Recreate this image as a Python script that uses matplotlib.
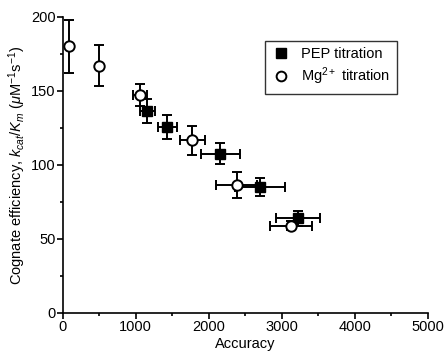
import matplotlib
matplotlib.use("Agg")
import matplotlib.pyplot as plt
from matplotlib.ticker import MultipleLocator
from matplotlib.lines import Line2D

plt.rcParams['font.family'] = ['Liberation Sans', 'DejaVu Sans']
plt.rcParams['mathtext.fontset'] = 'custom'
plt.rcParams['mathtext.rm'] = 'Liberation Sans'
plt.rcParams['mathtext.it'] = 'Liberation Sans:italic'

# PEP titration (filled squares)
pep_x = [1160, 1430, 2160, 2700, 3220]
pep_xerr = [105, 130, 265, 340, 305]
pep_y = [136.5, 125.5, 107.5, 85, 64]
pep_yerr = [8, 8, 7, 6, 5]

# Mg2+ titration (open circles)
mg_x = [80, 500, 1060, 1775, 2380, 3130]
mg_xerr = [0, 0, 95, 175, 280, 285]
mg_y = [180, 167, 147, 116.5, 86.5, 59]
mg_yerr = [18, 14, 7.5, 9.5, 9, 3]

fig = plt.figure(figsize=(4.48, 3.52), dpi=100)
ax = fig.add_axes([0.140, 0.111, 0.815, 0.841])

ax.errorbar(pep_x, pep_y, xerr=pep_xerr, yerr=pep_yerr, fmt='s', color='black',
            markersize=7, elinewidth=1.4, capsize=3.5, capthick=1.4, zorder=3)
ax.errorbar(mg_x, mg_y, xerr=mg_xerr, yerr=mg_yerr, fmt='o', color='black',
            markerfacecolor='white', markeredgecolor='black', markeredgewidth=1.4,
            markersize=7.5, elinewidth=1.4, capsize=3.5, capthick=1.4, zorder=4)

ax.set_xlim(0, 5000)
ax.set_ylim(0, 200)
ax.xaxis.set_major_locator(MultipleLocator(1000))
ax.xaxis.set_minor_locator(MultipleLocator(500))
ax.yaxis.set_major_locator(MultipleLocator(50))
ax.yaxis.set_minor_locator(MultipleLocator(25))
for s in ['top', 'right']:
    ax.spines[s].set_visible(False)
for s in ['left', 'bottom']:
    ax.spines[s].set_linewidth(1.2)
ax.tick_params(which='major', direction='out', length=4, width=1.2, labelsize=10.5, pad=1)
ax.tick_params(which='minor', direction='out', length=2.5, width=1.2)

ax.set_xlabel('Accuracy', fontsize=10.5, labelpad=2)
ax.set_ylabel(r'Cognate efficiency, $k_{cat}/K_m$ ($\mu$M$^{-1}$s$^{-1}$)', fontsize=10.5, labelpad=2)

handles = [Line2D([], [], marker='s', color='black', linestyle='none', markersize=6.5),
           Line2D([], [], marker='o', markerfacecolor='white', markeredgecolor='black',
                  markeredgewidth=1.4, linestyle='none', markersize=7)]
leg = ax.legend(handles, ['PEP titration', r'Mg$^{2+}$ titration'], loc='upper left',
                bbox_to_anchor=(0.555, 0.919), borderaxespad=0, fontsize=10.5,
                frameon=True, fancybox=False, edgecolor='black', handlelength=1.2,
                handletextpad=0.8, borderpad=0.45, labelspacing=0.3)
leg.get_frame().set_linewidth(1.0)

fig.savefig('out.png', dpi=100)
